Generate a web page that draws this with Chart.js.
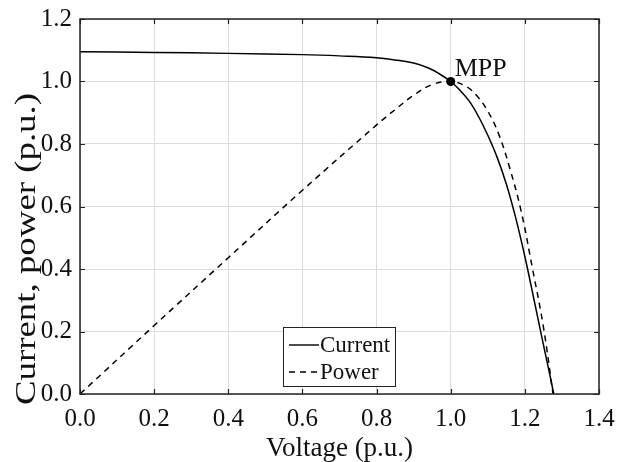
<!DOCTYPE html>
<html>
<head>
<meta charset="utf-8">
<script src="https://cdn.jsdelivr.net/npm/chart.js@4.4.0/dist/chart.umd.min.js"></script>
<style>
html,body{margin:0;padding:0;background:#fff;}
#wrap{width:617px;height:462px;position:relative;}
</style>
</head>
<body>
<div id="wrap"><canvas id="c" width="617" height="462"></canvas></div>
<script>
// Data
const currentVoltage = [0, 0.2, 0.4, 0.6, 0.7, 0.8, 0.85, 0.9, 0.94, 0.97, 1.0, 1.025, 1.05, 1.075, 1.1, 1.125, 1.15, 1.175, 1.2, 1.225, 1.25, 1.265, 1.278];
const currentValues  = [1.095, 1.093, 1.090, 1.086, 1.082, 1.076, 1.069, 1.059, 1.043, 1.024, 1.0, 0.972, 0.937, 0.888, 0.828, 0.758, 0.672, 0.565, 0.440, 0.300, 0.158, 0.075, 0.0];
const powerVoltage   = [0, 0.2, 0.4, 0.6, 0.8, 0.85, 0.9, 0.95, 1.0, 1.04, 1.07, 1.1, 1.13, 1.16, 1.19, 1.22, 1.25, 1.276];
const powerValues    = [0, 0.219, 0.436, 0.652, 0.861, 0.910, 0.956, 0.990, 1.0, 0.985, 0.955, 0.905, 0.830, 0.720, 0.585, 0.405, 0.215, 0.0];
const mppPoint = {x: 1.0, y: 1.0};
const mppLabel = 'MPP';
const xTickValues = [0, 0.2, 0.4, 0.6, 0.8, 1.0, 1.2, 1.4];
const yTickValues = [0, 0.2, 0.4, 0.6, 0.8, 1.0, 1.2];
const seriesNames = ['Current', 'Power'];
const xTitle = 'Voltage (p.u.)';
const yTitle = 'Current, power (p.u.)';

const FONT = '"Liberation Serif", "Times New Roman", serif';
const INK = '#111';

const toXY = (xs, ys) => xs.map((x, i) => ({x: x, y: ys[i]}));

const framePlugin = {
  id: 'frame',
  afterDatasetsDraw(chart) {
    const ctx = chart.ctx;
    const a = chart.chartArea;
    const xs = chart.scales.x, ys = chart.scales.y;
    ctx.save();
    // inward ticks on all four sides
    ctx.strokeStyle = '#222';
    ctx.lineWidth = 1.2;
    const L = 5;
    ctx.beginPath();
    xTickValues.forEach(v => {
      const px = Math.round(xs.getPixelForValue(v)) + 0.5;
      ctx.moveTo(px, a.bottom); ctx.lineTo(px, a.bottom - L);
      ctx.moveTo(px, a.top); ctx.lineTo(px, a.top + L);
    });
    yTickValues.forEach(v => {
      const py = Math.round(ys.getPixelForValue(v)) + 0.5;
      ctx.moveTo(a.left, py); ctx.lineTo(a.left + L, py);
      ctx.moveTo(a.right, py); ctx.lineTo(a.right - L, py);
    });
    ctx.stroke();
    // box
    ctx.strokeStyle = '#222';
    ctx.lineWidth = 1.5;
    ctx.strokeRect(a.left, a.top, a.right - a.left, a.bottom - a.top);

    // MPP label
    const mx = xs.getPixelForValue(mppPoint.x), my = ys.getPixelForValue(mppPoint.y);
    ctx.fillStyle = INK;
    ctx.font = '26px ' + FONT;
    ctx.textAlign = 'left';
    ctx.textBaseline = 'alphabetic';
    ctx.fillText(mppLabel, mx + 4, my - 6);

    // legend box
    const bx = 283, by = 327, bw = 112, bh = 59;
    ctx.fillStyle = '#fff';
    ctx.fillRect(bx, by, bw, bh);
    ctx.strokeStyle = '#222';
    ctx.lineWidth = 1;
    ctx.strokeRect(bx + 0.5, by + 0.5, bw, bh);
    ctx.font = '23px ' + FONT;
    ctx.textBaseline = 'middle';
    const rows = [by + 18, by + 45];
    chart.data.datasets.slice(0, 2).forEach((ds, i) => {
      ctx.strokeStyle = ds.borderColor;
      ctx.lineWidth = 1.4;
      ctx.setLineDash(ds.borderDash || []);
      ctx.beginPath();
      ctx.moveTo(bx + 6, rows[i]); ctx.lineTo(bx + 36, rows[i]);
      ctx.stroke();
      ctx.setLineDash([]);
      ctx.fillStyle = INK;
      ctx.fillText(ds.label, bx + 37, rows[i] + 1);
    });
    ctx.restore();

    // y-axis title (drawn rotated, stretched along its length like the reference)
    ctx.save();
    ctx.font = '30px ' + FONT;
    ctx.fillStyle = INK;
    ctx.textAlign = 'center';
    ctx.textBaseline = 'middle';
    const w = ctx.measureText(yTitle).width;
    const target = 312;
    ctx.translate(27, 249);
    ctx.rotate(-Math.PI / 2);
    ctx.scale(target / w, 1);
    ctx.fillText(yTitle, 0, 0);
    ctx.restore();
  }
};

new Chart(document.getElementById('c'), {
  type: 'scatter',
  data: {
    datasets: [
      {
        label: seriesNames[0],
        data: toXY(currentVoltage, currentValues),
        showLine: true,
        borderColor: '#000',
        borderWidth: 1.5,
        pointRadius: 0,
        tension: 0.4
      },
      {
        label: seriesNames[1],
        data: toXY(powerVoltage, powerValues),
        showLine: true,
        borderColor: '#000',
        borderWidth: 1.5,
        borderDash: [6, 5],
        pointRadius: 0,
        tension: 0.4
      },
      {
        label: mppLabel,
        data: [mppPoint],
        showLine: false,
        pointRadius: 4.5,
        pointBackgroundColor: '#000',
        pointBorderColor: '#000',
        pointBorderWidth: 0
      }
    ]
  },
  options: {
    responsive: false,
    animation: false,
    devicePixelRatio: 1,
    layout: {padding: {top: 19, right: 18, left: 0, bottom: 0}},
    plugins: {legend: {display: false}, tooltip: {enabled: false}},
    scales: {
      x: {
        type: 'linear',
        min: 0, max: 1.4,
        afterBuildTicks(s) { s.ticks = xTickValues.map(v => ({value: v})); },
        afterFit(s) { s.height = 68; s.paddingLeft = 0; s.paddingRight = 0; },
        ticks: {
          callback: v => v.toFixed(1),
          color: INK,
          font: {family: FONT, size: 25},
          padding: 10,
          maxRotation: 0
        },
        grid: {color: '#dcdcdc', lineWidth: 1, drawTicks: false},
        border: {display: false},
        title: {display: true, text: xTitle, color: INK, font: {family: FONT, size: 27, lineHeight: 1}, padding: {top: 0, bottom: 0}}
      },
      y: {
        type: 'linear',
        min: 0, max: 1.2,
        afterBuildTicks(s) { s.ticks = yTickValues.map(v => ({value: v})); },
        afterFit(s) { s.width = 80; s.paddingTop = 0; s.paddingBottom = 0; },
        ticks: {
          callback: v => v.toFixed(1),
          color: INK,
          font: {family: FONT, size: 25},
          padding: 8
        },
        grid: {color: '#dcdcdc', lineWidth: 1, drawTicks: false},
        border: {display: false},
        title: {display: false}
      }
    }
  },
  plugins: [framePlugin]
});
</script>
</body>
</html>
